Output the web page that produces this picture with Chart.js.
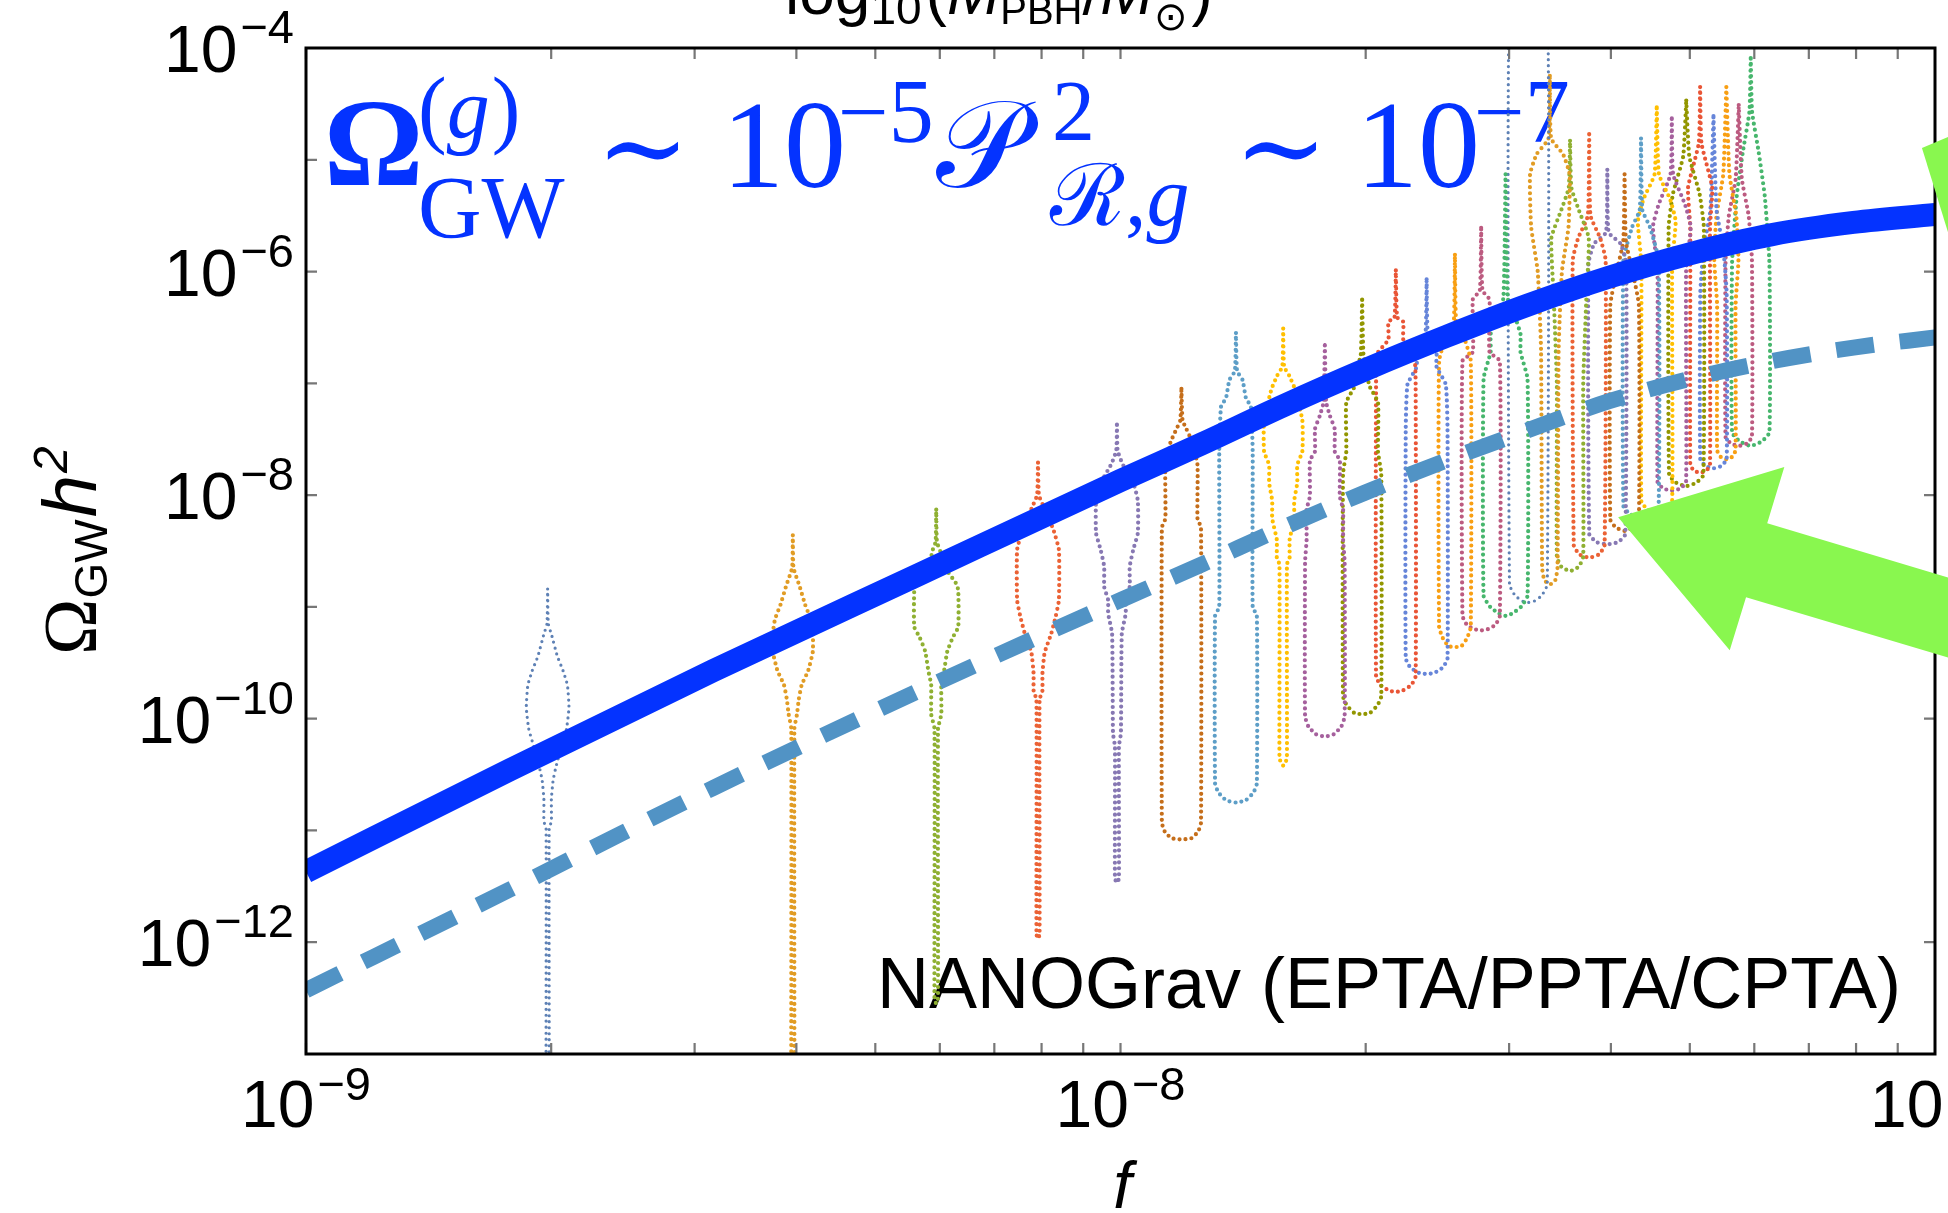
<!DOCTYPE html>
<html><head><meta charset="utf-8">
<script src="https://cdn.jsdelivr.net/npm/chart.js@4.4.0/dist/chart.umd.min.js"></script>
<style>html,body{margin:0;padding:0;background:#fff;overflow:hidden}canvas{display:block}</style>
</head><body>
<canvas id="c" width="1948" height="1213"></canvas>
<script>
// ---------------- DATA ----------------
// smooth curves: frequency [Hz] and Omega_GW h^2
const curveFreq = [1e-9, 1.778e-9, 3.162e-9, 5.623e-9, 1e-8, 1.259e-8, 1.585e-8, 1.995e-8, 2.512e-8, 3.162e-8, 3.981e-8, 5.012e-8, 6.310e-8, 7.943e-8, 1e-7];
const omegaSolid = [4.27e-12, 3.47e-11, 2.69e-10, 1.91e-9, 1.35e-8, 2.88e-8, 6.31e-8, 1.32e-7, 2.63e-7, 5.01e-7, 8.91e-7, 1.45e-6, 2.14e-6, 2.75e-6, 3.24e-6];
const omegaDashed = [3.72e-13, 2.95e-12, 2.40e-11, 1.74e-10, 1.15e-9, 2.40e-9, 5.13e-9, 1.05e-8, 2.04e-8, 3.80e-8, 6.92e-8, 1.10e-7, 1.58e-7, 2.09e-7, 2.57e-7];

// NANOGrav free-spectrum bins (Hz)
const binFreq = [1.98e-9, 3.96e-9, 5.94e-9, 7.92e-9, 9.90e-9, 1.188e-8, 1.386e-8, 1.584e-8, 1.782e-8, 1.980e-8,
  2.178e-8, 2.376e-8, 2.574e-8, 2.772e-8, 2.970e-8, 3.168e-8, 3.366e-8, 3.564e-8, 3.762e-8, 3.960e-8,
  4.158e-8, 4.356e-8, 4.554e-8, 4.752e-8, 4.950e-8, 5.148e-8, 5.346e-8, 5.544e-8, 5.742e-8, 5.940e-8];

// violin profiles: [log10(Omega h^2), relative density] from top to bottom
const violinProfiles = [
 [[-8.84,0],[-9.15,.03],[-9.25,.18],[-9.44,.44],[-9.57,.7],[-9.70,.9],[-9.90,.97],[-10.09,.86],[-10.23,.66],[-10.43,.38],[-10.55,.25],[-10.72,.17],[-10.92,.17],[-10.98,.07],[-13.6,.07],[-13.7,0]],
 [[-8.36,0],[-8.65,.03],[-8.81,.3],[-8.98,.56],[-9.11,.81],[-9.24,.91],[-9.40,.91],[-9.57,.7],[-9.70,.4],[-9.83,.27],[-9.96,.19],[-10.09,.07],[-13.6,.07],[-13.7,0]],
 [[-8.13,0],[-8.42,.03],[-8.50,.18],[-8.62,.3],[-8.79,.9],[-8.85,1.0],[-9.18,1.0],[-9.27,.76],[-9.40,.5],[-9.57,.36],[-9.70,.23],[-9.96,.23],[-10.09,.08],[-12.5,.08],[-12.55,0]],
 [[-7.71,0],[-8.0,.04],[-8.1,.25],[-8.31,.7],[-8.49,.95],[-8.94,.95],[-9.09,.8],[-9.24,.6],[-9.41,.3],[-9.6,.2],[-9.75,.2],[-9.83,.07],[-11.93,.07],[-11.97,0]],
 [[-7.37,0],[-7.6,.03],[-7.72,.25],[-7.9,.76],[-8.05,.95],[-8.34,.95],[-8.49,.74],[-8.64,.58],[-8.82,.58],[-8.94,.4],[-9.06,.4],[-9.24,.22],[-10.13,.18],[-10.25,.09],[-11.43,.09],[-11.47,0]],
 [[-7.05,0],[-7.33,.05],[-7.41,.23],[-7.53,.5],[-7.73,.73],[-8.21,.73],[-8.29,.89],[-10.93,.89],[-11.01,.76],[-11.07,.45],[-11.08,0]],
 [[-6.55,0],[-6.89,.05],[-6.97,.3],[-7.13,.45],[-7.21,.68],[-7.61,.76],[-9.0,.76],[-9.08,.95],[-10.58,.95],[-10.66,.8],[-10.73,.45],[-10.75,0]],
 [[-6.51,0],[-6.85,.04],[-6.93,.27],[-7.05,.53],[-7.33,.87],[-7.61,.87],[-7.73,.64],[-7.89,.64],[-8.05,.5],[-8.21,.5],[-8.40,.29],[-8.56,.29],[-8.62,.17],[-10.34,.17],[-10.40,.1],[-10.42,0]],
 [[-6.66,0],[-7.17,.06],[-7.29,.23],[-7.41,.45],[-7.61,.45],[-7.69,.68],[-8.01,.68],[-8.13,.83],[-8.40,.83],[-8.6,.9],[-9.98,.9],[-10.07,.75],[-10.14,.4],[-10.16,0]],
 [[-6.25,0],[-6.77,.07],[-6.85,.3],[-7.01,.3],[-7.17,.72],[-7.61,.72],[-7.81,.87],[-9.80,.87],[-9.88,.7],[-9.95,.35],[-9.96,0]],
 [[-5.99,0],[-6.41,.06],[-6.45,.34],[-6.61,.34],[-6.73,.83],[-7.01,.9],[-9.62,.9],[-9.70,.7],[-9.75,.3],[-9.76,0]],
 [[-6.07,0],[-6.57,.06],[-6.69,.45],[-6.85,.45],[-7.01,.87],[-7.41,.95],[-9.46,.95],[-9.54,.75],[-9.59,.35],[-9.6,0]],
 [[-5.85,0],[-6.48,.06],[-6.56,.36],[-6.80,.72],[-9.18,.72],[-9.28,.55],[-9.35,.3],[-9.36,0]],
 [[-5.61,0],[-6.17,.06],[-6.25,.38],[-6.72,.38],[-6.80,.85],[-9.08,.85],[-9.16,.65],[-9.2,.3],[-9.21,0]],
 [[-5.13,0],[-6.24,.1],[-6.40,.42],[-6.56,.68],[-6.72,.68],[-6.96,1.0],[-8.9,1.0],[-9.0,.7],[-9.06,.3],[-9.08,0]],
 [[-3.4,0],[-3.5,.86],[-8.80,.86],[-8.90,.6],[-8.95,.25],[-8.96,0]],
 [[-4.25,0],[-4.81,.06],[-4.95,.6],[-5.13,.9],[-5.6,.85],[-6.0,.55],[-6.7,.4],[-8.65,.35],[-8.76,.25],[-8.80,0]],
 [[-4.83,0],[-5.25,.06],[-5.45,.4],[-5.7,.85],[-6.2,.75],[-7.0,.6],[-8.55,.6],[-8.64,.4],[-8.68,0]],
 [[-4.77,0],[-5.5,.06],[-5.7,.5],[-5.9,.75],[-8.45,.7],[-8.53,.45],[-8.56,0]],
 [[-5.09,0],[-5.65,.06],[-5.75,.6],[-5.93,.86],[-8.35,.82],[-8.42,.5],[-8.44,0]],
 [[-5.13,0],[-5.73,.06],[-6.0,.36],[-6.3,.65],[-8.22,.65],[-8.29,.4],[-8.32,0]],
 [[-4.81,0],[-5.45,.06],[-5.6,.4],[-5.9,.8],[-8.1,.8],[-8.17,.5],[-8.2,0]],
 [[-4.53,0],[-5.13,.1],[-5.35,.6],[-5.55,.86],[-5.93,.7],[-8.06,.7],[-8.13,.4],[-8.16,0]],
 [[-4.63,0],[-5.13,.06],[-5.4,.6],[-5.6,.86],[-6.0,.65],[-7.88,.65],[-7.94,.4],[-7.96,0]],
 [[-4.47,0],[-4.97,.14],[-5.3,.6],[-5.6,.8],[-7.82,.78],[-7.89,.45],[-7.92,0]],
 [[-4.35,0],[-4.85,.06],[-5.25,.55],[-5.6,.45],[-7.72,.45],[-7.78,.3],[-7.80,0]],
 [[-4.61,0],[-5.45,.14],[-5.8,.45],[-6.2,.6],[-7.68,.6],[-7.74,.35],[-7.76,0]],
 [[-4.35,0],[-5.13,.14],[-5.5,.45],[-5.9,.55],[-6.3,.42],[-7.6,.42],[-7.66,.25],[-7.68,0]],
 [[-4.51,0],[-5.17,.14],[-5.5,.45],[-5.9,.6],[-7.48,.6],[-7.54,.35],[-7.56,0]],
 [[-4.09,0],[-4.57,.06],[-4.93,.36],[-5.33,.64],[-5.93,.85],[-7.44,.85],[-7.52,.5],[-7.56,0]]
];

// axis tick labels (powers of ten)
const xTickExps = [-9, -8, -7];
const yTickExps = [-4, -6, -8, -10, -12];

// ---------------- STYLE ----------------
const palette = ['#5E81B5','#E19C24','#8FB032','#EB6235','#8778B3','#C56E1A','#5D9EC7','#FFBF00','#A5609D','#929600','#E95536','#6685D9','#F89F13','#BC5B80','#47B66D'];
const VIOLIN_HALF_DEC = 0.027;
const SANS = "'Liberation Sans', Arial, Helvetica, sans-serif";
const SERIF = "'Liberation Serif', 'Times New Roman', serif";
const SYM = "'DejaVu Serif', 'Liberation Serif', serif";
const FORMULA_BLUE = '#0433ff';
const ARROW_GREEN = '#89f74f';

function outline(f, prof) {
  const right = prof.map(([L, d]) => ({x: f * Math.pow(10, d * VIOLIN_HALF_DEC), y: Math.pow(10, L)}));
  const left = prof.slice(0, -1).reverse().map(([L, d]) => ({x: f * Math.pow(10, -d * VIOLIN_HALF_DEC), y: Math.pow(10, L)}));
  return right.concat(left);
}

const datasets = [];
datasets.push({
  label: 'solid', data: curveFreq.map((f, i) => ({x: f, y: omegaSolid[i]})),
  borderColor: FORMULA_BLUE, borderWidth: 23, pointRadius: 0, fill: false,
  cubicInterpolationMode: 'monotone', borderCapStyle: 'butt', order: 0, clip: 0
});
datasets.push({
  label: 'dashed', data: curveFreq.map((f, i) => ({x: f, y: omegaDashed[i]})),
  borderColor: '#5193c5', borderWidth: 16, borderDash: [38, 26], pointRadius: 0, fill: false,
  cubicInterpolationMode: 'monotone', borderCapStyle: 'butt', order: 1, clip: 0
});
binFreq.forEach((f, k) => {
  datasets.push({
    label: 'bin' + (k + 1), data: outline(f, violinProfiles[k]),
    borderColor: palette[k % 15], borderWidth: (k % 15 === 0) ? 3.2 : 4.2, borderDash: [0, 6],
    borderCapStyle: 'round', borderJoinStyle: 'round', pointRadius: 0, fill: false, tension: 0.15,
    order: 2 + k, clip: 0
  });
});

// annotation geometry in data coordinates (log10 f, log10 Omega)
const arrowMain = [[-7.389,-8.197],[-7.185,-7.749],[-7.206,-8.251],[-6.932,-8.850],[-6.932,-9.566],[-7.232,-8.913],[-7.252,-9.387]];
const arrowTop = [[-7.016,-4.895],[-6.883,-4.483],[-6.962,-6.166]];

function font(size, italic, fam, bold) { return (italic ? 'italic ' : '') + (bold ? 'bold ' : '') + size + 'px ' + (fam || SANS); }

function drawPieces(ctx, pieces, color) {
  ctx.fillStyle = color; ctx.textBaseline = 'alphabetic'; ctx.textAlign = 'left';
  let cx = 0;
  for (const p of pieces) {
    ctx.font = font(p.s, p.it, p.fam, p.b);
    const x = (p.x == null) ? cx + (p.dx || 0) : p.x;
    ctx.fillText(p.t, x, p.y);
    cx = x + ctx.measureText(p.t).width;
  }
}

const decor = {
  id: 'decor',
  beforeDatasetsDraw(chart) {
    const ctx = chart.ctx;
    ctx.save();
    drawPieces(ctx, [
      {t: 'Ω', x: 324, y: 185, s: 124, fam: SERIF, b: true},
      {t: '(', x: 418, y: 137, s: 86, fam: SERIF},
      {t: 'g', y: 137, s: 86, fam: SERIF, it: true},
      {t: ')', y: 137, s: 86, fam: SERIF, dx: 2},
      {t: 'GW', x: 418, y: 237, s: 88, fam: SERIF},
      {t: '∼', x: 596, y: 186, s: 112, fam: SYM},
      {t: '10', x: 722, y: 187, s: 124, fam: SERIF},
      {t: '−5', x: 838, y: 142, s: 90, fam: SERIF},
      {t: '𝒫', x: 936, y: 187, s: 124, fam: SERIF},
      {t: '2', x: 1052, y: 140, s: 86, fam: SERIF},
      {t: 'ℛ', x: 1050, y: 225, s: 86, fam: SERIF},
      {t: ',', y: 225, s: 86, fam: SERIF},
      {t: 'g', y: 225, s: 86, fam: SERIF, it: true},
      {t: '∼', x: 1234, y: 186, s: 112, fam: SYM},
      {t: '10', x: 1356, y: 187, s: 124, fam: SERIF},
      {t: '−7', x: 1474, y: 142, s: 90, fam: SERIF}
    ], FORMULA_BLUE);
    ctx.font = font(72); ctx.fillStyle = '#000'; ctx.textAlign = 'right';
    ctx.fillText('NANOGrav (EPTA/PPTA/CPTA)', 1901, 1008);
    ctx.restore();
  },
  afterDatasetsDraw(chart) {
    const {ctx, chartArea: a, scales: {x, y}} = chart;
    ctx.save();
    // ticks
    ctx.strokeStyle = '#777'; ctx.lineWidth = 2.2; ctx.beginPath();
    for (let e = -9; e < -7; e++) for (let m = 1; m <= 9; m++) {
      const px = x.getPixelForValue(m * Math.pow(10, e));
      ctx.moveTo(px, a.bottom); ctx.lineTo(px, a.bottom - 11);
      ctx.moveTo(px, a.top); ctx.lineTo(px, a.top + 11);
    }
    for (let e = -13; e <= -4; e++) {
      const py = y.getPixelForValue(Math.pow(10, e));
      ctx.moveTo(a.left, py); ctx.lineTo(a.left + 11, py);
      if (e % 2 === 0) { ctx.moveTo(a.right, py); ctx.lineTo(a.right - 11, py); }
    }
    ctx.stroke();
    // frame
    ctx.strokeStyle = '#000'; ctx.lineWidth = 3;
    ctx.strokeRect(a.left, a.top, a.right - a.left, a.bottom - a.top);
    // tick labels
    ctx.fillStyle = '#000'; ctx.textBaseline = 'alphabetic'; ctx.textAlign = 'left';
    const mainF = font(66), supF = font(47);
    for (const e of xTickExps) {
      const px = x.getPixelForValue(Math.pow(10, e));
      ctx.font = mainF; const w1 = ctx.measureText('10').width;
      ctx.font = supF; const sup = '−' + Math.abs(e); const w2 = ctx.measureText(sup).width;
      const x0 = px - (w1 + 3 + w2) / 2;
      ctx.font = mainF; ctx.fillText('10', x0, 1127);
      ctx.font = supF; ctx.fillText(sup, x0 + w1 + 3, 1100);
    }
    for (const e of yTickExps) {
      const py = y.getPixelForValue(Math.pow(10, e));
      ctx.font = supF; const sup = '−' + Math.abs(e); const w2 = ctx.measureText(sup).width;
      ctx.font = mainF; const w1 = ctx.measureText('10').width;
      const x1 = 294 - w2;
      ctx.font = supF; ctx.fillText(sup, x1, py - 5);
      ctx.font = mainF; ctx.fillText('10', x1 - 3 - w1, py + 24);
    }
    // x title
    ctx.font = font(66, true); ctx.textAlign = 'center';
    ctx.fillText('f', (a.left + a.right) / 2 + 2, 1208);
    // y title (rotated)
    ctx.save();
    ctx.translate(96, 655); ctx.rotate(-Math.PI / 2);
    drawPieces(ctx, [
      {t: 'Ω', x: 0, y: 0, s: 76, fam: SERIF},
      {t: 'GW', y: 11, s: 46},
      {t: 'h', y: 0, s: 76, it: true, dx: 2},
      {t: '2', y: -29, s: 48, it: true, dx: 2}
    ], '#000');
    ctx.restore();
    // top (cut-off) secondary axis title
    drawPieces(ctx, [
      {t: 'log', x: 785, y: 14, s: 64},
      {t: '10', y: 24, s: 46},
      {t: '(', y: 14, s: 64, dx: 4},
      {t: 'M', y: 14, s: 64, it: true},
      {t: 'PBH', y: 24, s: 40},
      {t: '/', y: 14, s: 64},
      {t: 'M', y: 14, s: 64, it: true},
      {t: '⊙', y: 30, s: 40},
      {t: ')', y: 14, s: 64, dx: 4}
    ], '#000');
    // green arrows
    const P = ([lf, lo]) => [x.getPixelForValue(Math.pow(10, lf)), y.getPixelForValue(Math.pow(10, lo))];
    ctx.fillStyle = ARROW_GREEN;
    for (const poly of [arrowMain, arrowTop]) {
      ctx.beginPath();
      poly.forEach((pt, i) => { const [px, py] = P(pt); if (i === 0) ctx.moveTo(px, py); else ctx.lineTo(px, py); });
      ctx.closePath(); ctx.fill();
    }
    ctx.restore();
  }
};

new Chart(document.getElementById('c'), {
  type: 'line',
  data: {datasets},
  options: {
    responsive: false, devicePixelRatio: 1, animation: false,
    layout: {padding: {left: 306, top: 48, right: 13, bottom: 159}},
    plugins: {legend: {display: false}, tooltip: {enabled: false}},
    scales: {
      x: {type: 'logarithmic', min: 1e-9, max: 1e-7, display: false},
      y: {type: 'logarithmic', min: 1e-13, max: 1e-4, display: false}
    },
    elements: {point: {radius: 0}}
  },
  plugins: [decor]
});
</script>
</body></html>
